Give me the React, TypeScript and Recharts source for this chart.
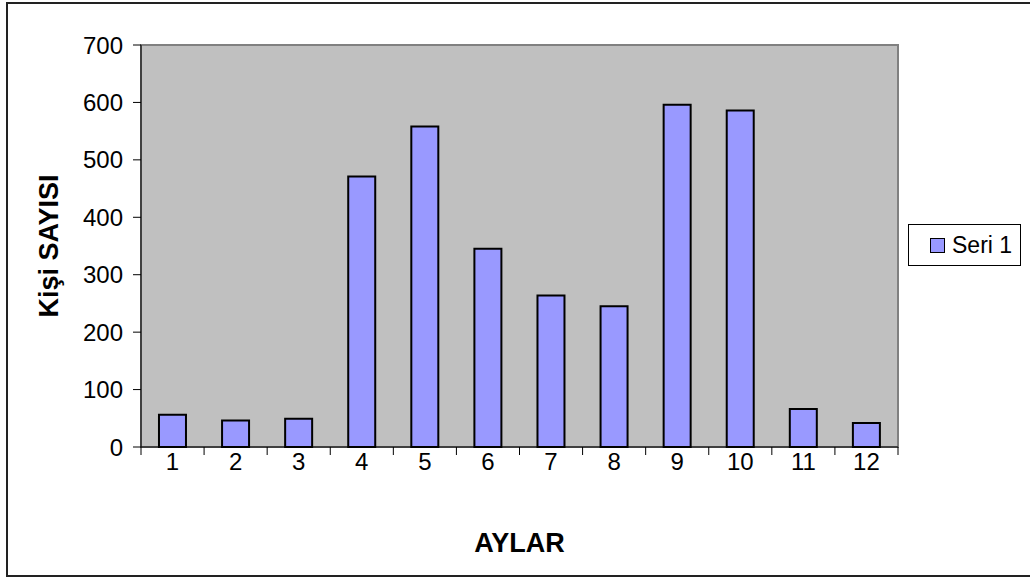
import { BarChart, Bar, XAxis, YAxis, CartesianGrid, Legend, ReferenceArea } from 'recharts';

const months = ['1', '2', '3', '4', '5', '6', '7', '8', '9', '10', '11', '12'];
const seri1 = [56, 46, 49, 471, 558, 345, 264, 245, 596, 586, 66, 42];
const yTicks = [0, 100, 200, 300, 400, 500, 600, 700];

const data = months.map((m, i) => ({ month: m, 'Seri 1': seri1[i] }));

const FONT = 'Liberation Sans, Arial, sans-serif';

const MonthTick = (props: any) => {
  const { x, y, payload, index } = props;
  const off = payload.offset || 0;
  const axisY = y - 9;
  return (
    <g>
      <line x1={x - off} y1={axisY} x2={x - off} y2={axisY + 8} stroke="#000" strokeWidth={1} />
      {index === months.length - 1 && (
        <line x1={x + off} y1={axisY} x2={x + off} y2={axisY + 8} stroke="#000" strokeWidth={1} />
      )}
      <text x={x} y={y} dy="0.6em" textAnchor="middle" fill="#000" fontSize={24} fontFamily={FONT}>
        {payload.value}
      </text>
    </g>
  );
};

const SeriesLegend = () => (
  <div
    style={{
      border: '1px solid #000',
      background: '#fff',
      width: 113,
      height: 42,
      boxSizing: 'border-box',
      display: 'flex',
      alignItems: 'center',
      paddingLeft: 21,
      fontFamily: FONT,
      fontSize: 23,
      color: '#000',
    }}
  >
    <span
      style={{
        display: 'inline-block',
        width: 15,
        height: 15,
        background: '#9999ff',
        border: '1px solid #000',
        boxSizing: 'border-box',
        marginRight: 7,
      }}
    />
    Seri 1
  </div>
);

export default function App() {
  return (
    <div style={{ position: 'fixed', left: 0, top: 0, width: 1030, height: 579, background: '#fff' }}>
      <div
        style={{
          position: 'absolute',
          left: 6,
          top: 2,
          width: 1040,
          height: 575,
          border: '2px solid #222',
          boxSizing: 'border-box',
        }}
      />
      <div style={{ position: 'absolute', left: 0, top: 0 }}>
        <BarChart
          width={1030}
          height={579}
          data={data}
          margin={{ top: 45, right: 19, left: 0, bottom: 0 }}
          barCategoryGap="28.5%"
        >
          <ReferenceArea y1={0} y2={700} fill="#c0c0c0" fillOpacity={1} stroke="none" />
          <CartesianGrid vertical={false} stroke="#333" strokeWidth={1} />
          <ReferenceArea y1={0} y2={700} fill="none" stroke="#808080" strokeWidth={2} />
          <XAxis
            dataKey="month"
            height={132}
            axisLine={{ stroke: '#000', strokeWidth: 1 }}
            tickLine={false}
            tickSize={8}
            tickMargin={1}
            interval={0}
            tick={<MonthTick />}
            label={{
              value: 'AYLAR',
              position: 'insideTop',
              offset: 86,
              fill: '#000',
              fontSize: 27,
              fontWeight: 'bold',
              fontFamily: FONT,
            }}
          />
          <YAxis
            width={141}
            domain={[0, 700]}
            ticks={yTicks}
            interval={0}
            axisLine={{ stroke: '#000', strokeWidth: 1 }}
            tickLine={{ stroke: '#000' }}
            tickSize={8}
            tickMargin={10}
            tick={{ fill: '#000', fontSize: 24, fontFamily: FONT }}
            label={{
              value: 'Kişi SAYISI',
              angle: -90,
              position: 'insideLeft',
              offset: 48,
              fill: '#000',
              fontSize: 27,
              fontWeight: 'bold',
              fontFamily: FONT,
              style: { textAnchor: 'middle' },
            }}
          />
          <Legend
            layout="vertical"
            align="right"
            verticalAlign="middle"
            content={<SeriesLegend />}
            wrapperStyle={{ right: 9, top: 224 }}
          />
          <Bar dataKey="Seri 1" fill="#9999ff" stroke="#000" strokeWidth={2} isAnimationActive={false} />
        </BarChart>
      </div>
    </div>
  );
}
